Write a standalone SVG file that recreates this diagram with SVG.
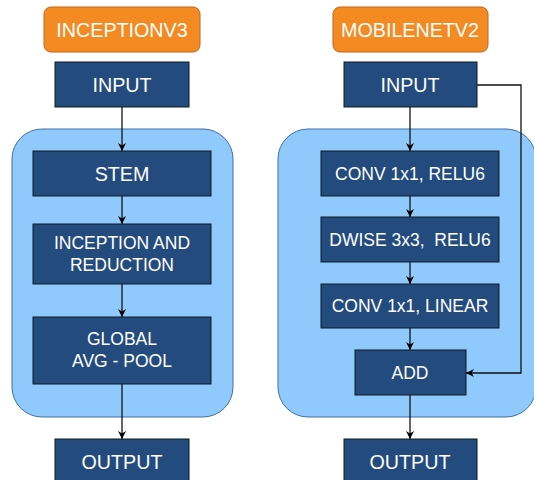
<svg xmlns="http://www.w3.org/2000/svg" width="534" height="480" viewBox="0 0 534 480">
<style>
.title{fill:#F38A22;stroke:#C9621A;stroke-width:1}
.cont{fill:#90CAFD;stroke:#3F6FA6;stroke-width:1}
.node{fill:#234B7D;stroke:#111A24;stroke-width:1}
.lbl{font-family:"Liberation Sans",Arial,sans-serif;fill:#ffffff;text-anchor:middle;dominant-baseline:central}
.big{font-size:19.7px}
.sm{font-size:17.5px}
.edge{fill:none;stroke:#111;stroke-width:1.3}
</style>
<defs>
<marker id="arr" viewBox="0 0 10 10" refX="10" refY="5" markerWidth="8" markerHeight="8" markerUnits="userSpaceOnUse" orient="auto">
<path d="M0,0 L10,5 L0,10 L3,5 Z" fill="#000"/>
</marker>
</defs>
<g id="containers">
<rect class="cont" x="12" y="129" width="221" height="288" rx="30"/>
<rect class="cont" x="278" y="129" width="258" height="288" rx="30"/>
</g>
<g id="connectors">
<line class="edge" x1="122" y1="107" x2="122" y2="151" marker-end="url(#arr)"/>
<line class="edge" x1="122" y1="196" x2="122" y2="224" marker-end="url(#arr)"/>
<line class="edge" x1="122" y1="284" x2="122" y2="317" marker-end="url(#arr)"/>
<line class="edge" x1="122" y1="384" x2="122" y2="439" marker-end="url(#arr)"/>
<line class="edge" x1="410" y1="107" x2="410" y2="151" marker-end="url(#arr)"/>
<line class="edge" x1="410" y1="196" x2="410" y2="217" marker-end="url(#arr)"/>
<line class="edge" x1="410" y1="262" x2="410" y2="284" marker-end="url(#arr)"/>
<line class="edge" x1="410" y1="328" x2="410" y2="350" marker-end="url(#arr)"/>
<line class="edge" x1="410" y1="395" x2="410" y2="439" marker-end="url(#arr)"/>
<polyline class="edge" points="477,85 521,85 521,373 466,373" marker-end="url(#arr)"/>
</g>
<g id="title-inception">
<rect class="title" x="44" y="7" width="156" height="45" rx="7"/>
<text class="lbl big" x="122" y="30">INCEPTIONV3</text>
</g>
<g id="title-mobilenet">
<rect class="title" x="333" y="7" width="155" height="45" rx="7"/>
<text class="lbl big" x="410" y="30">MOBILENETV2</text>
</g>
<g id="inc-input">
<rect class="node" x="55" y="62" width="134" height="45"/>
<text class="lbl big" x="122" y="85">INPUT</text>
</g>
<g id="inc-stem">
<rect class="node" x="33" y="151" width="178" height="45"/>
<text class="lbl big" x="122" y="174">STEM</text>
</g>
<g id="inc-incred">
<rect class="node" x="33" y="224" width="178" height="60"/>
<text class="lbl sm" x="122" y="243">INCEPTION AND</text>
<text class="lbl sm" x="122" y="265">REDUCTION</text>
</g>
<g id="inc-pool">
<rect class="node" x="33" y="317" width="178" height="67"/>
<text class="lbl sm" x="122" y="339">GLOBAL</text>
<text class="lbl sm" x="122" y="361">AVG - POOL</text>
</g>
<g id="inc-output">
<rect class="node" x="55" y="439" width="134" height="45"/>
<text class="lbl big" x="122" y="462">OUTPUT</text>
</g>
<g id="mob-input">
<rect class="node" x="344" y="62" width="133" height="45"/>
<text class="lbl big" x="410" y="85">INPUT</text>
</g>
<g id="mob-conv1">
<rect class="node" x="321" y="151" width="178" height="45"/>
<text class="lbl sm" x="410" y="174">CONV 1x1, RELU6</text>
</g>
<g id="mob-dwise">
<rect class="node" x="321" y="217" width="178" height="45"/>
<text class="lbl sm" x="410" y="240" xml:space="preserve">DWISE 3x3,  RELU6</text>
</g>
<g id="mob-conv2">
<rect class="node" x="321" y="284" width="178" height="44"/>
<text class="lbl sm" x="410" y="306">CONV 1x1, LINEAR</text>
</g>
<g id="mob-add">
<rect class="node" x="355" y="350" width="111" height="45"/>
<text class="lbl sm" x="410" y="373">ADD</text>
</g>
<g id="mob-output">
<rect class="node" x="344" y="439" width="133" height="45"/>
<text class="lbl big" x="410" y="462">OUTPUT</text>
</g>
</svg>
